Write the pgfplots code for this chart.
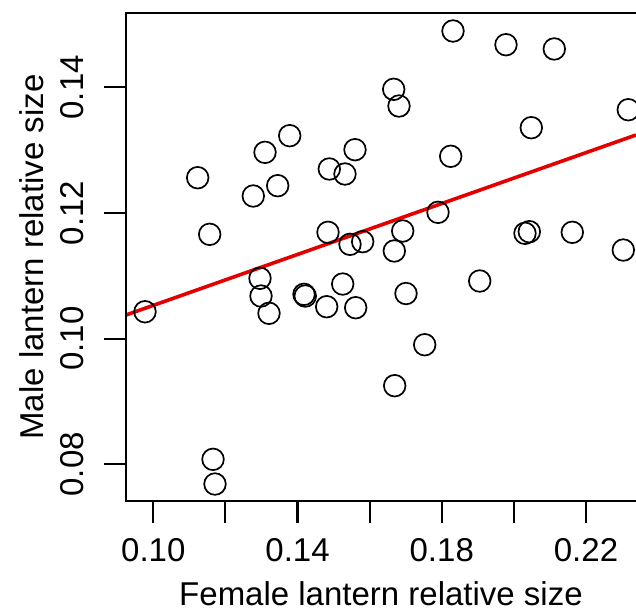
\documentclass[border=0pt]{standalone}
\usepackage{fontspec}
\setmainfont{Liberation Sans}
\usepackage{pgfplots}
\pgfplotsset{compat=1.18}
\begin{document}
\begin{tikzpicture}
\begin{axis}[
  name=ax,
  scale only axis, width=510pt, height=488pt,
  xmin=0.09243, xmax=0.23387, ymin=0.074159, ymax=0.151826,
  clip=false,
  axis line style={draw=none},
  tick align=outside, tick pos=left,
  major tick length=21.7pt,
  tick style={black, line width=1.7pt},
  xtick={0.10,0.12,0.14,0.16,0.18,0.20,0.22},
  xticklabels={0.10,,0.14,,0.18,,0.22},
  ytick={0.08,0.10,0.12,0.14},
  yticklabels={0.08,0.10,0.12,0.14},
  ticklabel style={font=\fontsize{33}{40}\selectfont, inner sep=0pt},
  xticklabel style={anchor=base},
  yticklabel style={rotate=90, anchor=base},
  xticklabel shift=38.3pt,
  yticklabel shift=20.8pt,
  xlabel={Female lantern relative size},
  ylabel={Male lantern relative size},
  label style={font=\fontsize{33}{40}\selectfont, inner sep=0pt},
  xlabel style={at={(axis description cs:0.5,-0.2135)}, anchor=base},
  ylabel style={at={(axis description cs:-0.1627,0.5)}, anchor=base},
]
% observations
\addplot[only marks, mark=o, mark size=10.8pt, mark options={line width=1.7pt, black}] coordinates {
  (0.0977,0.10428) (0.11231,0.12561) (0.11564,0.1166) (0.11656,0.08079)
  (0.11711,0.07686) (0.12773,0.1227) (0.12959,0.1096) (0.12987,0.10678)
  (0.13209,0.10403) (0.13098,0.12965) (0.1345,0.12434) (0.13783,0.1323)
  (0.14179,0.10705) (0.14215,0.10678) (0.14809,0.10508) (0.15253,0.10869)
  (0.15613,0.10492) (0.14881,0.127) (0.15316,0.1262) (0.15594,0.13007)
  (0.14845,0.11692) (0.15455,0.11501) (0.15807,0.11543) (0.16917,0.11713)
  (0.16684,0.11395) (0.17008,0.10718) (0.17527,0.09903) (0.16695,0.09251)
  (0.16667,0.13968) (0.16814,0.13702) (0.18312,0.14896) (0.19781,0.14678)
  (0.21121,0.1461) (0.23173,0.13643) (0.20483,0.13357) (0.18248,0.12902)
  (0.17896,0.1201) (0.20308,0.11676) (0.20428,0.11702) (0.2162,0.11692)
  (0.23035,0.1141) (0.19052,0.10917)
};
% fitted line
\addplot[red!90!black, line width=3.6pt] coordinates {(0.09243,0.10376) (0.23387,0.13241)};
% heavier tick marks, R style
\pgfplotsinvokeforeach{0.10,0.12,0.14,0.16,0.18,0.20,0.22}{
  \draw[line width=2.1pt] (axis cs:#1,0.074159) -- ++(0pt,-21.7pt);
}
\pgfplotsinvokeforeach{0.08,0.10,0.12,0.14}{
  \draw[line width=2.1pt] (axis cs:0.09243,#1) -- ++(-21.7pt,0pt);
}
\end{axis}
\draw[line width=1.8pt, line join=miter] (ax.north east) -- (ax.north west) -- (ax.south west) -- (ax.south east);
\pgfresetboundingbox
\path[use as bounding box] (-126pt,-108pt) rectangle (510pt,501pt);
\end{tikzpicture}
\end{document}
